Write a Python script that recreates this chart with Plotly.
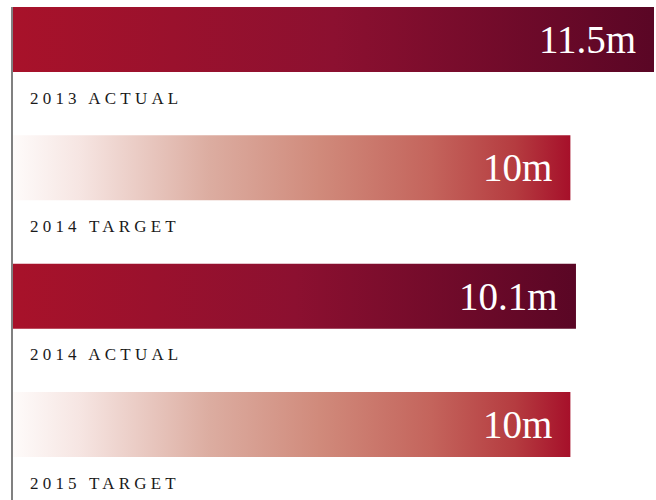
import plotly.graph_objects as go

# Revenue figures, in millions
labels = ["2013 actual", "2014 target", "2014 actual", "2015 target"]
values = [11.5, 10.0, 10.1, 10.0]
value_text = ["11.5m", "10m", "10.1m", "10m"]
kinds = ["actual", "target", "actual", "target"]

gradients = {
    "actual": [[0.0, "#a8122a"], [0.5, "#8c1030"], [1.0, "#5a0625"]],
    "target": [[0.0, "#fefbfa"], [0.12, "#f6e5e2"], [0.35, "#dcada1"],
               [0.55, "#d08a7b"], [0.75, "#c4645c"], [0.9, "#b53c40"],
               [1.0, "#a6102a"]],
}

half = 0.2533  # half bar thickness in category units

fig = go.Figure()
for i, (v, k) in enumerate(zip(values, kinds)):
    fig.add_trace(go.Scatter(
        x=[0, v, v, 0, 0],
        y=[i - half, i - half, i + half, i + half, i - half],
        mode="lines",
        line=dict(width=0),
        fill="toself",
        fillgradient=dict(type="horizontal", colorscale=gradients[k]),
        hoverinfo="skip",
        showlegend=False,
    ))
    fig.add_annotation(
        x=v, y=i, xref="x", yref="y", text=value_text[i],
        xanchor="right", yanchor="middle", xshift=-16, yshift=0,
        showarrow=False,
        font=dict(family="Liberation Serif", size=39, color="#ffffff"),
    )
    fig.add_annotation(
        x=0, y=i + 0.456, xref="x", yref="y", text=labels[i].upper(),
        xanchor="left", yanchor="middle", xshift=15,
        showarrow=False,
        font=dict(family="Liberation Serif", size=17, color="#1a1a1a"),
    )

fig.update_layout(
    width=656, height=500,
    margin=dict(l=13, r=2, t=7, b=0),
    paper_bgcolor="white", plot_bgcolor="white",
    xaxis=dict(range=[0, 11.5], visible=False, fixedrange=True),
    yaxis=dict(range=[3.588, -half], showgrid=False, zeroline=False,
               showticklabels=False, ticks="", showline=True,
               linecolor="#808080", linewidth=2, fixedrange=True),
)

# Widen the tracking of the category captions, keeping their left edge fixed
post = """
document.querySelectorAll('.annotation-text').forEach(function (t) {
  if (!/[A-Z]/.test(t.textContent)) { return; }
  var b = t.getBBox();
  t.setAttribute('text-anchor', 'start');
  t.setAttribute('x', b.x);
  t.querySelectorAll('tspan').forEach(function (s) {
    if (s.hasAttribute('x')) { s.setAttribute('x', b.x); }
  });
  t.style.letterSpacing = '4.2px';
});
"""

fig.write_html("out.html", config={"displayModeBar": False}, post_script=post)
